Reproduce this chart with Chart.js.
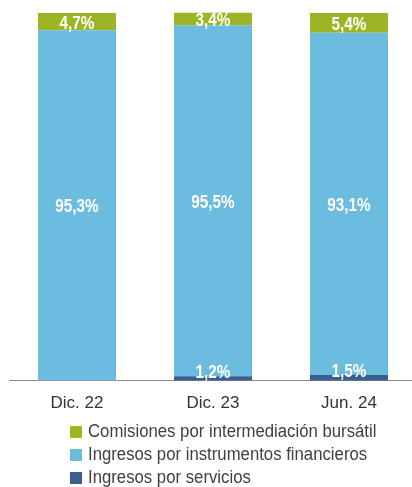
<!DOCTYPE html>
<html><head><meta charset="utf-8">
<script src="https://cdn.jsdelivr.net/npm/chart.js@4.4.1/dist/chart.umd.min.js"></script>
<style>
html,body{margin:0;padding:0;background:#fff;overflow:hidden;width:412px;height:487px;}
#wrap{position:absolute;left:0;top:0;width:420px;height:427px;}
#legend{position:absolute;left:70px;top:420px;font-family:"Liberation Sans",Arial,sans-serif;font-size:18px;color:#404040;}
.item{height:23px;line-height:23px;white-space:nowrap;}
.box{display:inline-block;width:12px;height:12px;margin-right:6px;vertical-align:-1px;}
.txt{display:inline-block;transform:scaleX(0.93);transform-origin:left center;}
</style></head><body>
<div id="wrap"><canvas id="c"></canvas></div>
<div id="legend"></div>
<script>
const categories = ["Dic. 22", "Dic. 23", "Jun. 24"];
const servicios = [0, 1.2, 1.5];
const instrumentos = [95.3, 95.5, 93.1];
const comisiones = [4.7, 3.4, 5.4];
const seriesNames = ["Ingresos por servicios", "Ingresos por instrumentos financieros", "Comisiones por intermediación bursátil"];
const colors = ["#3A5F8F", "#6CBCDF", "#9BB524"];
const fmt = v => v.toFixed(1).replace('.', ',') + '%';

const labelPlugin = {
  id: 'labels',
  afterDatasetsDraw(chart) {
    const ctx = chart.ctx;
    chart.data.datasets.forEach((ds, di) => {
      const meta = chart.getDatasetMeta(di);
      meta.data.forEach((bar, i) => {
        const v = ds.data[i];
        if (!v) return;
        let y;
        if (di === 0) y = bar.y - 3;
        else y = (bar.y + bar.base) / 2 + 2;
        ctx.save();
        ctx.fillStyle = '#fff';
        ctx.font = 'bold 18px "Liberation Sans",Arial,sans-serif';
        ctx.textAlign = 'center';
        ctx.textBaseline = 'middle';
        ctx.translate(bar.x, y);
        ctx.scale(0.85, 1);
        ctx.fillText(fmt(v), 0, 0);
        ctx.restore();
      });
    });
  }
};

const canvas = document.getElementById('c');
canvas.width = 420; canvas.height = 427;
new Chart(canvas, {
  type: 'bar',
  data: {
    labels: categories,
    datasets: [
      { label: seriesNames[0], data: servicios, backgroundColor: colors[0] },
      { label: seriesNames[1], data: instrumentos, backgroundColor: colors[1] },
      { label: seriesNames[2], data: comisiones, backgroundColor: colors[2] }
    ]
  },
  options: {
    responsive: false,
    animation: false,
    devicePixelRatio: 1,
    layout: { padding: { top: 13, left: 9, right: 3, bottom: 0 } },
    datasets: { bar: { barPercentage: 0.574, categoryPercentage: 1, borderWidth: 0, clip: false } },
    plugins: { legend: { display: false }, tooltip: { enabled: false } },
    scales: {
      x: {
        stacked: true,
        grid: { display: false, drawTicks: false },
        border: { display: true, color: '#8c8c8c', width: 1 },
        ticks: { color: '#333', padding: 13, font: { family: '"Liberation Sans", Arial, sans-serif', size: 17 } }
      },
      y: {
        stacked: true, display: false, min: 0, max: 100
      }
    }
  },
  plugins: [labelPlugin]
});

const leg = document.getElementById('legend');
[2, 1, 0].forEach(i => {
  const d = document.createElement('div');
  d.className = 'item';
  d.innerHTML = '<span class="box" style="background:' + colors[i] + '"></span><span class="txt">' + seriesNames[i] + '</span>';
  leg.appendChild(d);
});
</script>
</body></html>
